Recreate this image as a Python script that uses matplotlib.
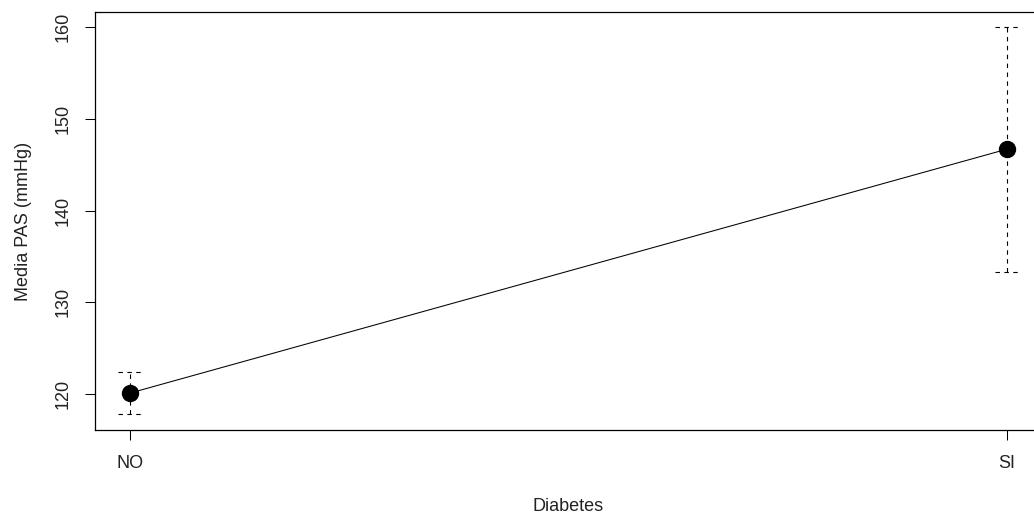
import numpy as np
import matplotlib.pyplot as plt

plt.rcParams['font.family'] = ['Liberation Sans', 'DejaVu Sans']

groups = ["NO", "SI"]
means = [120.1, 146.7]
lower = [117.8, 133.3]
upper = [122.4, 160.0]
yticks = [120, 130, 140, 150, 160]

x = np.arange(len(groups))
cap = 0.014
dash = (0, (4, 4))

fig = plt.figure(figsize=(10.34, 5.15), dpi=100)
ax = fig.add_axes([95 / 1034, 1 - 430 / 515, (1042 - 95) / 1034, (430 - 12) / 515])

ax.plot(x, means, color="black", lw=0.75, zorder=2)
ax.vlines(x, lower, upper, color="black", lw=0.8, linestyle=dash, zorder=1)
ax.hlines(lower, x - cap, x + cap, color="black", lw=0.8, linestyle=dash)
ax.hlines(upper, x - cap, x + cap, color="black", lw=0.8, linestyle=dash)
ax.plot(x, means, "o", color="black", ms=11.5, zorder=3)

ax.set_xlim(-0.04, 1.04)
ax.set_ylim(116.07, 161.66)
ax.set_xticks(x)
ax.set_xticklabels(groups)
ax.set_yticks(yticks)
ax.set_yticklabels([str(t) for t in yticks], rotation=90, va="center")
ax.tick_params(length=7, width=0.75, labelsize=13, pad=10, colors="black", labelcolor="#222222")
ax.tick_params(axis="x", pad=11)
for s in ax.spines.values():
    s.set_linewidth(0.9)

ax.set_xlabel("Diabetes", fontsize=13, color="#222222", labelpad=19)
ax.set_ylabel("Media PAS (mmHg)", fontsize=13, color="#222222", labelpad=16)

fig.savefig("out.png", dpi=100)
